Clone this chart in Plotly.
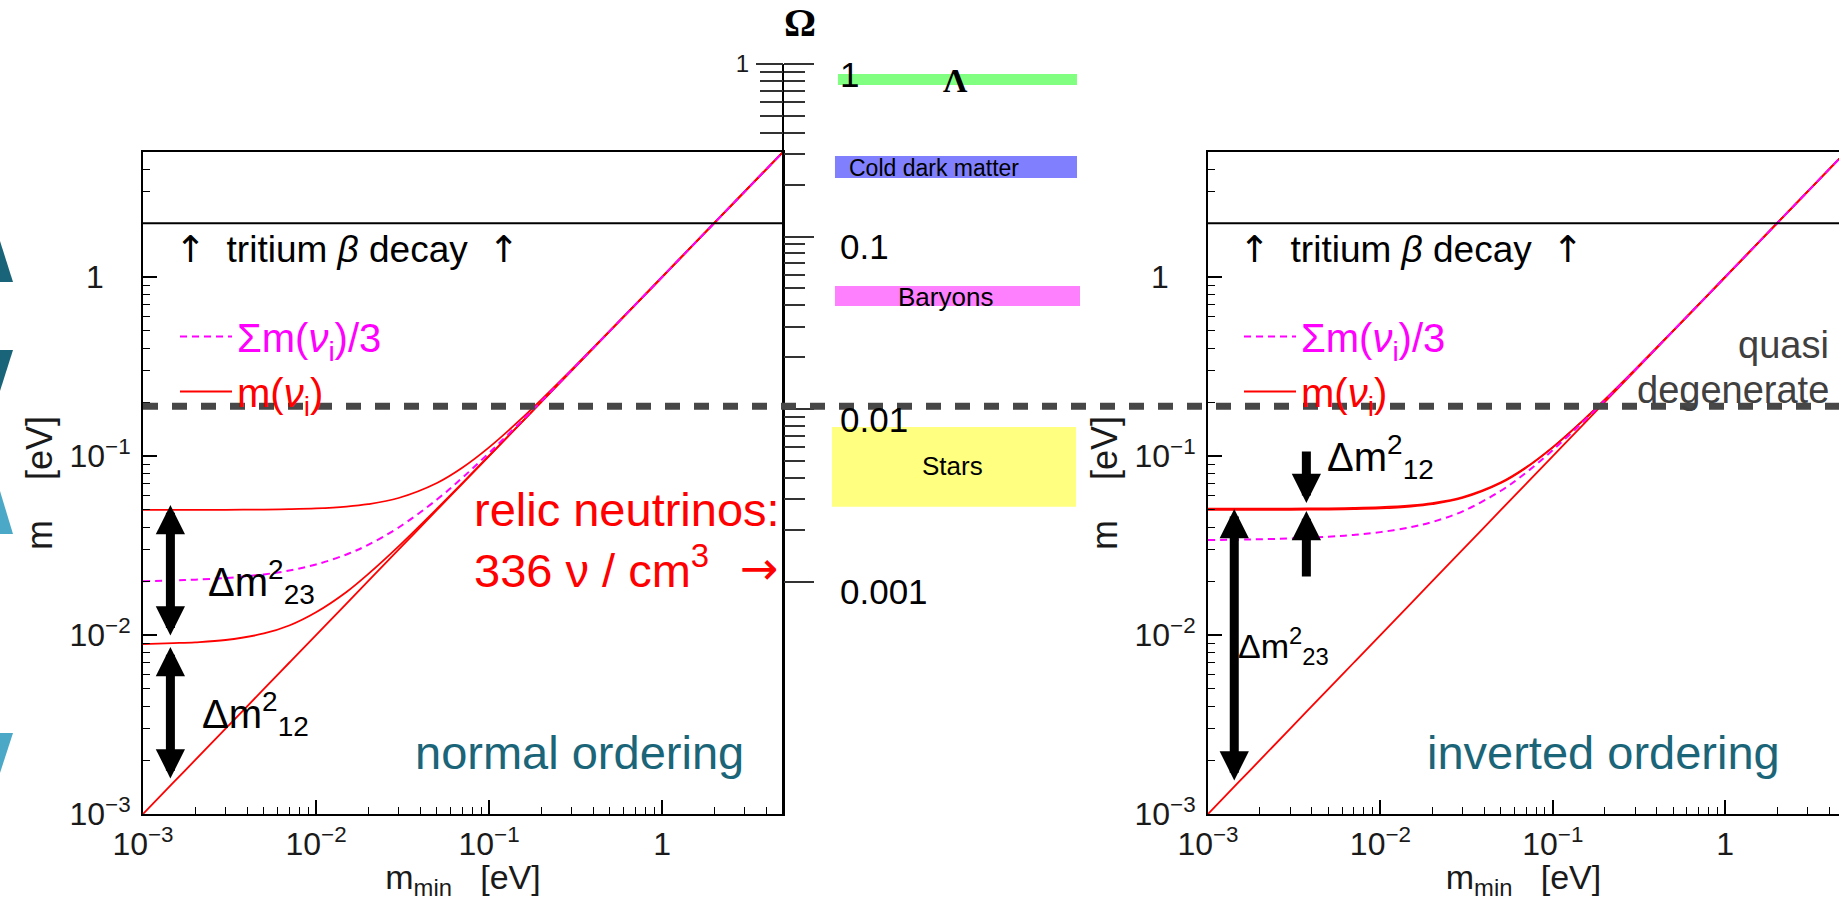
import numpy as np
import plotly.graph_objects as go

W, H = 1839, 901

# ---------------- data ----------------
m_min = [0.001, 0.0015, 0.002, 0.003, 0.005, 0.007, 0.01, 0.015, 0.02, 0.03,
         0.05, 0.07, 0.1, 0.15, 0.2, 0.3, 0.5, 1.0, 2.0, 5.0]

# normal ordering
no_m1 = [0.001, 0.0015, 0.002, 0.003, 0.005, 0.007, 0.01, 0.015, 0.02, 0.03,
         0.05, 0.07, 0.1, 0.15, 0.2, 0.3, 0.5, 1.0, 2.0, 5.0]
no_m2 = [0.0089, 0.00901, 0.00911, 0.00938, 0.0102, 0.0113, 0.0134, 0.0174, 0.0219, 0.0313,
         0.0508, 0.0706, 0.1004, 0.1503, 0.2002, 0.3001, 0.5000, 1.0000, 2.0000, 5.0000]
no_m3 = [0.05001, 0.05002, 0.05004, 0.05009, 0.05025, 0.05049, 0.05099, 0.0522, 0.05385, 0.05831,
         0.07071, 0.08602, 0.1118, 0.1581, 0.2062, 0.3041, 0.5025, 1.0012, 2.0006, 5.0002]
no_sum3 = [0.0200, 0.02018, 0.02038, 0.02082, 0.02182, 0.02293, 0.02479, 0.0282, 0.03191, 0.0399,
           0.05716, 0.07553, 0.10406, 0.1528, 0.2021, 0.3014, 0.5008, 1.0004, 2.0002, 5.0001]

# inverted ordering
io_m3 = [0.001, 0.0015, 0.002, 0.003, 0.005, 0.007, 0.01, 0.015, 0.02, 0.03,
         0.05, 0.07, 0.1, 0.15, 0.2, 0.3, 0.5, 1.0, 2.0, 5.0]
io_m1 = [0.05001, 0.05002, 0.05004, 0.05009, 0.05025, 0.05049, 0.05099, 0.0522, 0.05385, 0.05831,
         0.07071, 0.08602, 0.1118, 0.1581, 0.2062, 0.3041, 0.5025, 1.0012, 2.0006, 5.0002]
io_m2 = [0.05079, 0.05081, 0.05082, 0.05087, 0.05103, 0.05126, 0.05176, 0.05295, 0.05458, 0.05898,
         0.07127, 0.08648, 0.11216, 0.15836, 0.20635, 0.30427, 0.50257, 1.0013, 2.0006, 5.0003]
io_sum3 = [0.03393, 0.03411, 0.03429, 0.03465, 0.03543, 0.03625, 0.03758, 0.04005, 0.04281, 0.0491,
           0.064, 0.08083, 0.10799, 0.15549, 0.20418, 0.30279, 0.50169, 1.0008, 2.0004, 5.0002]

tritium_limit = 2.0        # eV
cosmo_limit = 0.19         # eV (dashed line)

# mass-splitting arrows (m_min position, end values in eV)
no_arrow_x = 0.00144
no_d23 = [0.0532, 0.00975]
no_d12 = [0.00857, 0.00155]
io_d23_x = 0.00142
io_d23 = [0.0506, 0.00151]
io_d12_x = 0.00372
io_d12_down = [0.108, 0.0546]   # tail, tip
io_d12_up = [0.0208, 0.0493]    # tail, tip

# cosmological Omega budget
omega_names = ["Λ", "Cold dark matter", "Baryons", "Stars"]
omega_low = [0.755, 0.218, 0.0396, 0.00271]
omega_high = [0.875, 0.293, 0.0516, 0.00787]
omega_ticks = [1, 0.1, 0.01, 0.001]
omega_tick_text = ["1", "0.1", "0.01", "0.001"]

m_ticks = [0.001, 0.01, 0.1, 1]
m_tick_exp = ["−3", "−2", "−1", None]

# ---------------- style ----------------
SANS = "Liberation Sans, Arial, sans-serif"
SERIF = "Liberation Serif, Times New Roman, serif"
ARROWFONT = "DejaVu Sans"
RED = "#ff0000"
MAG = "#ff00ff"
TEAL = "#1b6579"
omega_colors = ["#80ff80", "#8080ff", "#ff80ff", "#ffff80"]
bar_x = [(0.024, 0.988), (0.012, 0.988), (0.012, 1.0), (0.0, 0.984)]

x_tick_text = [("10<sup>%s</sup>" % e) if e else "1" for e in m_tick_exp]
y_tick_text = [("10<sup>%s</sup>" % e) if e else "1\u2007 " for e in m_tick_exp]


def PX(x):
    return x / W


def PY(y):
    return 1 - y / H


minor_m = [k * 10.0 ** e for e in range(-3, 1) for k in range(2, 10)]
omega_minor = [k * 10.0 ** e for e in range(-3, 0) for k in range(2, 10)]

fig = go.Figure()


def add_panel(xa, ya, leg, curves_red, curve_sum):
    for i, c in enumerate(curves_red):
        fig.add_trace(go.Scatter(
            x=m_min, y=c, xaxis=xa, yaxis=ya, mode="lines",
            line=dict(color=RED, width=1.8, shape="spline"),
            name="<span style='color:#ff0000'>m(<i>ν</i><sub>i</sub>)</span>",
            legendgroup="m" + leg, showlegend=(i == 0), legend=leg, legendrank=2,
            hoverinfo="skip"))
    fig.add_trace(go.Scatter(
        x=m_min, y=curve_sum, xaxis=xa, yaxis=ya, mode="lines",
        line=dict(color=MAG, width=2, dash="7px,5px", shape="spline"),
        name="<span style='color:#ff00ff'>Σm(<i>ν</i><sub>i</sub>)/3</span>",
        legendgroup="s" + leg, showlegend=True, legend=leg, legendrank=1,
        hoverinfo="skip"))


add_panel("x", "y", "legend", [no_m1, no_m2, no_m3], no_sum3)
add_panel("x2", "y2", "legend2", [io_m3, io_m1, io_m2], io_sum3)

# Omega bars
for name, lo, hi, col, (x0, x1) in zip(omega_names, omega_low, omega_high, omega_colors, bar_x):
    fig.add_trace(go.Scatter(
        x=[x0, x1, x1, x0, x0], y=[lo, lo, hi, hi, lo], xaxis="x3", yaxis="y3",
        mode="lines", fill="toself", fillcolor=col, line=dict(width=0, color=col),
        showlegend=False, hoverinfo="skip", name=name))

# invisible trace so the upper (left-tick) Omega axis is created
fig.add_trace(go.Scatter(x=[0.5], y=[omega_ticks[0]], xaxis="x3", yaxis="y4", mode="markers",
                         marker=dict(opacity=0), showlegend=False, hoverinfo="skip"))

tickfont = dict(family=SANS, size=32, color="#1a1a1a")


def m_xaxis(domain, rng, anchor):
    return dict(type="log", domain=domain, range=rng, anchor=anchor,
                showline=True, linecolor="black", linewidth=2, mirror=True,
                ticks="inside", ticklen=14, tickwidth=1.5, tickcolor="black",
                tickvals=m_ticks, ticktext=x_tick_text, tickfont=tickfont,
                minor=dict(ticks="inside", ticklen=7, tickwidth=1.2, tickcolor="black",
                           tickvals=minor_m),
                showgrid=False, zeroline=False, automargin=False, ticklabelstandoff=1,
                title=dict(text="m<sub>min</sub>   [eV]", font=dict(family=SANS, size=34, color="#1a1a1a"),
                           standoff=0))


def m_yaxis(domain, anchor):
    return dict(type="log", domain=domain, range=[-3, np.log10(5)], anchor=anchor,
                showline=True, linecolor="black", linewidth=2, mirror=True,
                ticks="inside", ticklen=14, tickwidth=1.5, tickcolor="black",
                tickvals=m_ticks, ticktext=y_tick_text, tickfont=tickfont,
                minor=dict(ticks="inside", ticklen=7, tickwidth=1.2, tickcolor="black",
                           tickvals=minor_m),
                showgrid=False, zeroline=False, automargin=False, ticklabelstandoff=4,
                title=dict(text="m    [eV]", font=dict(family=SANS, size=36, color="#1a1a1a"),
                           standoff=6))


ydom = [PY(814), PY(152)]
OM_PX = 172.5  # pixels per decade on the Omega axis

legend_common = dict(xanchor="left", yanchor="top", bgcolor="rgba(0,0,0,0)",
                     font=dict(family=SANS, size=40), tracegroupgap=0, traceorder="grouped",
                     itemwidth=52)

fig.update_layout(
    width=W, height=H, margin=dict(l=0, r=0, t=0, b=0, autoexpand=False),
    paper_bgcolor="white", plot_bgcolor="rgba(0,0,0,0)",
    xaxis=m_xaxis([PX(143), PX(783)], [-3, np.log10(5)], "y"),
    yaxis=m_yaxis(ydom, "x"),
    xaxis2=m_xaxis([PX(1208), 1.0], [-3, 0.66], "y2"),
    yaxis2=m_yaxis(ydom, "x2"),
    xaxis3=dict(domain=[PX(832), PX(1080)], range=[0, 1], visible=False, anchor="y3",
                fixedrange=True),
    yaxis3=dict(type="log", domain=[PY(814), PY(64)], range=[-(814 - 64) / OM_PX, 0],
                anchor="free", position=PX(783), side="right",
                showline=True, linecolor="black", linewidth=2,
                ticks="outside", ticklen=30, tickwidth=1.5, tickcolor="#333333",
                tickvals=omega_ticks, showticklabels=False,
                minor=dict(ticks="outside", ticklen=21, tickwidth=1.5, tickcolor="#333333",
                           tickvals=omega_minor),
                showgrid=False, zeroline=False, automargin=False),
    yaxis4=dict(type="log", domain=[PY(152), PY(64)], range=[-(152 - 64) / OM_PX, 0],
                anchor="free", position=PX(783), side="left",
                showline=False, ticks="outside", ticklen=27, tickwidth=1.5, tickcolor="#333333",
                tickvals=[omega_ticks[0]], ticktext=[omega_tick_text[0]],
                tickfont=dict(family=SANS, size=24, color="#1a1a1a"), ticklabelstandoff=2,
                minor=dict(ticks="outside", ticklen=23, tickwidth=1.5, tickcolor="#333333",
                           tickvals=omega_minor),
                showgrid=False, zeroline=False, automargin=False),
    legend=dict(x=PX(175), y=PY(304), **legend_common),
    legend2=dict(x=PX(1239), y=PY(304), **legend_common),
)

shapes = []
# tritium beta decay limits
for xr, yr in (("x domain", "y"), ("x2 domain", "y2")):
    shapes.append(dict(type="line", xref=xr, yref=yr, x0=0, x1=1, y0=tritium_limit, y1=tritium_limit,
                       line=dict(color="black", width=2)))
# cosmology dashed line
shapes.append(dict(type="line", xref="paper", yref="y", x0=PX(143), x1=1, y0=cosmo_limit, y1=cosmo_limit,
                   line=dict(color="#474747", width=7, dash="15px,14px")))


# slide decoration (template chevrons at the left edge)
def tri(pts, col):
    d = "M" + " L".join(f"{PX(x):.5f},{PY(y):.5f}" for x, y in pts) + " Z"
    return dict(type="path", xref="paper", yref="paper", path=d, fillcolor=col,
                line=dict(width=0), layer="above")


shapes += [
    tri([(0, 241), (13, 282), (0, 282)], "#1a6479"),
    tri([(0, 350), (13, 350), (0, 391)], "#1a6479"),
    tri([(0, 491), (13, 534), (0, 534)], "#4ba9c7"),
    tri([(0, 733), (13, 733), (0, 773)], "#4ba9c7"),
]
fig.update_layout(shapes=shapes)

ann = []


def txt(text, x, y, size, color="black", xanchor="left", family=SANS, yanchor="middle", **kw):
    ann.append(dict(text=text, x=PX(x), y=PY(y), xref="paper", yref="paper", showarrow=False,
                    xanchor=xanchor, yanchor=yanchor, font=dict(family=family, size=size, color=color),
                    **kw))


def arrow(xa, ya, x, tail, tip, both=True):
    d = dict(text="", xref=xa, yref=ya, axref=xa, ayref=ya,
             x=np.log10(x), y=np.log10(tip), ax=np.log10(x), ay=np.log10(tail),
             showarrow=True, arrowhead=2, arrowsize=0.65, arrowwidth=9, arrowcolor="black")
    if both:
        d.update(arrowside="end+start", startarrowhead=2, startarrowsize=0.65)
    ann.append(d)


# Omega axis
txt("<b>Ω</b>", 800, 23, 40, family=SERIF, xanchor="center")
for v, t in zip(omega_ticks, omega_tick_text):
    ann.append(dict(text=t, x=PX(838), y=np.log10(v), xref="paper", yref="y3", yshift=-10,
                    showarrow=False, xanchor="left", yanchor="middle",
                    font=dict(family=SANS, size=35, color="black")))
txt("<b>Λ</b>", 955, 80, 34, family=SERIF, xanchor="center")
txt(omega_names[1], 934, 168, 23, xanchor="center")
txt(omega_names[2], 946, 297, 26, xanchor="center")
txt(omega_names[3], 952, 466, 26, xanchor="center")

# panel texts
arr_up = "<span style='font-family:DejaVu Sans'>↑</span>"
trit = arr_up + "  tritium <i>β</i> decay  " + arr_up
txt(trit, 173, 250, 37)
txt(trit, 1237, 250, 37)
txt("relic neutrinos:<br>336 ν / cm<sup>3</sup>", 472, 540, 47, color=RED, align="left")
txt("→", 759, 568, 46, color=RED, xanchor="center", family=ARROWFONT)
txt("normal ordering", 413, 752, 47, color=TEAL)
txt("inverted ordering", 1425, 752, 47, color=TEAL)
txt("quasi", 1831, 345, 38, color="#404040", xanchor="right")
txt("degenerate", 1831, 390, 38, color="#404040", xanchor="right")

# Delta m^2 labels
txt("Δm<sup>2</sup><sub>23</sub>", 206, 582, 40)
txt("Δm<sup>2</sup><sub>12</sub>", 200, 714, 40)
txt("Δm<sup>2</sup><sub>12</sub>", 1325, 457, 40)
txt("Δm<sup>2</sup><sub>23</sub>", 1236, 646, 34)

# arrows
arrow("x", "y", no_arrow_x, no_d23[1], no_d23[0])
arrow("x", "y", no_arrow_x, no_d12[1], no_d12[0])
arrow("x2", "y2", io_d23_x, io_d23[1], io_d23[0])
arrow("x2", "y2", io_d12_x, io_d12_down[0], io_d12_down[1], both=False)
arrow("x2", "y2", io_d12_x, io_d12_up[0], io_d12_up[1], both=False)

fig.update_layout(annotations=ann)
fig.write_html("out.html")
